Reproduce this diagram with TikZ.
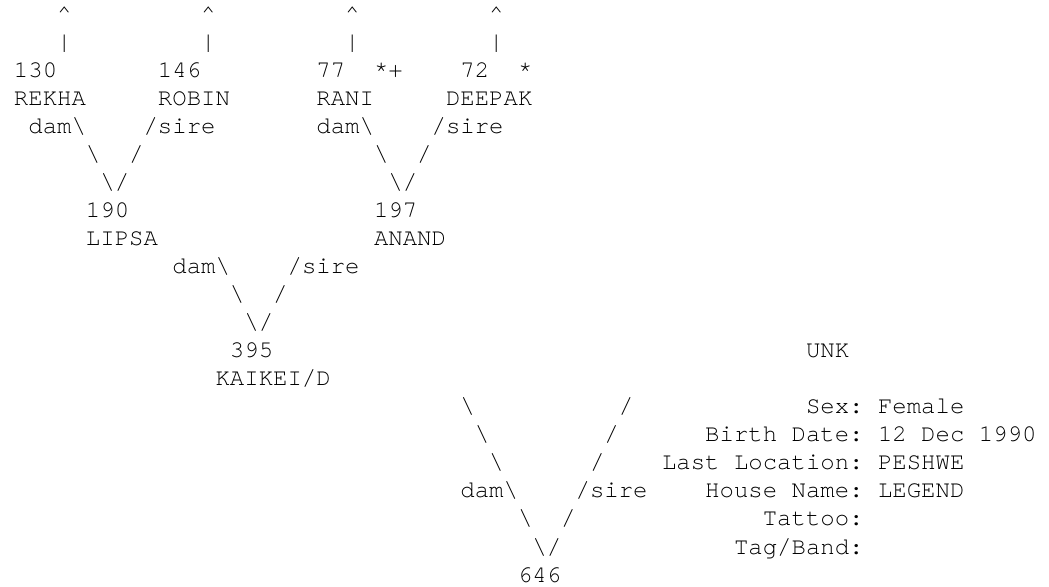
\documentclass[tikz,border=0pt]{standalone}
\usepackage{fontspec}
\setmonofont{TeX Gyre Cursor}
\usepackage{tikz}
\usetikzlibrary{positioning}

\newcommand{\bs}{\textbackslash}

\begin{document}
\begin{tikzpicture}[
    x=10.8pt, y=-21.04pt,
    txt/.style={anchor=base west, inner sep=0pt, outer sep=0pt, font=\ttfamily\fontsize{18}{21}\selectfont}
]
    \useasboundingbox (-0.972,-0.749) rectangle (71.875,20.14);

    % grandparents
    \node[txt] (up130) at (3,0) {\textasciicircum};
    \node[txt] (up146) at (13,0) {\textasciicircum};
    \node[txt] (up77) at (23,0) {\textasciicircum};
    \node[txt] (up72) at (33,0) {\textasciicircum};
    \node[txt] (bar130) at (3,1) {|};
    \node[txt] (bar146) at (13,1) {|};
    \node[txt] (bar77) at (23,1) {|};
    \node[txt] (bar72) at (33,1) {|};

    \node[txt] (n130) at (0,2) {130};
    \node[txt] (n146) at (10,2) {146};
    \node[txt] (n77) at (21,2) {77};
    \node[txt] (mark77) at (25,2) {*+};
    \node[txt] (n72) at (31,2) {72};
    \node[txt] (mark72) at (35,2) {*};

    \node[txt] (rekha) at (0,3) {REKHA};
    \node[txt] (robin) at (10,3) {ROBIN};
    \node[txt] (rani) at (21,3) {RANI};
    \node[txt] (deepak) at (30,3) {DEEPAK};

    \node[txt] (dam190) at (1,4) {dam\bs};
    \node[txt] (sire190) at (9,4) {/sire};
    \node[txt] (dam197) at (21,4) {dam\bs};
    \node[txt] (sire197) at (29,4) {/sire};
    \node[txt] (l190a) at (5,5) {\bs};
    \node[txt] (r190a) at (8,5) {/};
    \node[txt] (l197a) at (25,5) {\bs};
    \node[txt] (r197a) at (28,5) {/};
    \node[txt] (v190) at (6,6) {\bs/};
    \node[txt] (v197) at (26,6) {\bs/};

    % parents
    \node[txt] (n190) at (5,7) {190};
    \node[txt] (n197) at (25,7) {197};
    \node[txt] (lipsa) at (5,8) {LIPSA};
    \node[txt] (anand) at (25,8) {ANAND};

    \node[txt] (dam395) at (11,9) {dam\bs};
    \node[txt] (sire395) at (19,9) {/sire};
    \node[txt] (l395a) at (15,10) {\bs};
    \node[txt] (r395a) at (18,10) {/};
    \node[txt] (v395) at (16,11) {\bs/};

    \node[txt] (n395) at (15,12) {395};
    \node[txt] (kaikei) at (14,13) {KAIKEI/D};
    \node[txt] (unk) at (55,12) {UNK};

    % subject
    \node[txt] (l646a) at (31,14) {\bs};
    \node[txt] (r646a) at (42,14) {/};
    \node[txt] (l646b) at (32,15) {\bs};
    \node[txt] (r646b) at (41,15) {/};
    \node[txt] (l646c) at (33,16) {\bs};
    \node[txt] (r646c) at (40,16) {/};
    \node[txt] (dam646) at (31,17) {dam\bs};
    \node[txt] (sire646) at (39,17) {/sire};
    \node[txt] (l646d) at (35,18) {\bs};
    \node[txt] (r646d) at (38,18) {/};
    \node[txt] (v646) at (36,19) {\bs/};
    \node[txt] (n646) at (35,20) {646};

    % details
    \node[txt] (sex) at (55,14) {Sex: Female};
    \node[txt] (birth) at (48,15) {Birth Date: 12 Dec 1990};
    \node[txt] (loc) at (45,16) {Last Location: PESHWE};
    \node[txt] (house) at (48,17) {House Name: LEGEND};
    \node[txt] (tattoo) at (52,18) {Tattoo:};
    \node[txt] (tag) at (50,19) {Tag/Band:};
\end{tikzpicture}
\end{document}
